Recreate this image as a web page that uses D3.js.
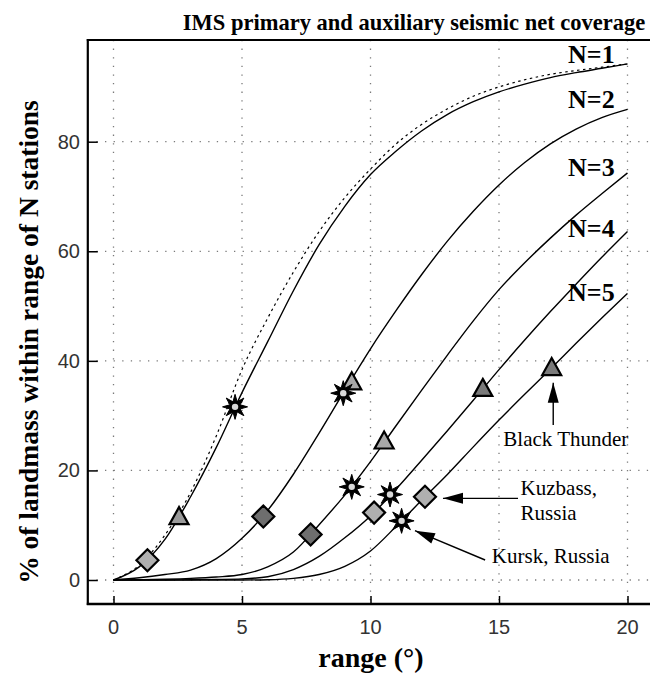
<!DOCTYPE html>
<html><head><meta charset="utf-8">
<script src="https://cdn.jsdelivr.net/npm/d3@7/dist/d3.min.js"></script>
<style>body{margin:0;background:#fff}</style>
</head><body>
<svg id="c" width="650" height="674"></svg>
<script>
// ---------- data ----------
const rangeDeg = [0,1,2,3,4,5,6,7,8,9,10,11,12,13,14,15,16,17,18,19,20];
const coverN1dotted = [0,2.7,8.2,16,26.3,38.4,47.8,56.2,63.6,69.8,75.0,79.6,83.2,86.0,88.3,90.0,91.3,92.3,93.0,93.6,94.2];
const coverN1 = [0,2.4,7.4,15.2,24.2,34.2,43.5,52.8,61.2,68.2,74.0,78.3,82.0,85.0,87.3,89.1,90.5,91.7,92.6,93.4,94.2];
const coverN2 = [0,0.4,1.0,1.8,3.9,7.6,12.7,19.3,26.8,34.6,42.2,49.2,55.8,61.9,67.3,72.1,76.2,79.6,82.3,84.4,85.9];
const coverN3 = [0,0.05,0.15,0.3,0.55,1.0,2.4,5.1,10.1,15.5,21.6,28.2,34.7,41.1,47.3,53.0,57.9,62.4,66.6,70.5,74.3];
const coverN4 = [0,0,0,0.05,0.1,0.2,0.6,1.9,4.3,7.7,11.7,16.6,21.9,27.3,32.8,38.4,43.8,49.0,54.0,58.9,63.6];
const coverN5 = [0,0,0,0,0,0,0.05,0.3,1.0,2.5,5.3,9.8,14.6,19.3,24.3,29.2,33.9,38.5,43.2,47.8,52.3];
const curveNames = ["N=1","N=2","N=3","N=4","N=5"];

const kuzbassRange = [1.32,5.83,7.67,10.14,12.12];
const kuzbassCover = [3.6,11.6,8.3,12.3,15.2];
const kurskRange = [4.73,8.94,9.27,10.76,11.21];
const kurskCover = [31.6,34.1,17.0,15.6,10.8];
const thunderRange = [2.55,9.27,10.53,14.37,17.05];
const thunderCover = [11.3,35.9,25.1,34.7,38.5];

const xTicks = [0,5,10,15,20];
const yTicks = [0,20,40,60,80];

const titleText = "IMS primary and auxiliary seismic net coverage";
const xTitle = "range (°)";
const yTitle = "% of landmass within range of N stations";

// ---------- layout / style ----------
const svg = d3.select("#c");
const pLeft = 87.8, pRight = 653, pTop = 40, pBottom = 604;
const x = d3.scaleLinear().domain([0,20]).range([113.5,627.5]);
const y = d3.scaleLinear().domain([0,80]).range([580,141.7]);
const serif = "'Liberation Serif','Times New Roman',serif";
const sans = "'Liberation Sans',Arial,sans-serif";
const kuzShade = ["#b0b0b0","#6e6e6e","#6e6e6e","#b0b0b0","#b0b0b0"];
const thuShade = ["#9a9a9a","#a8a8a8","#a8a8a8","#7a7a7a","#7a7a7a"];
const labelPos = [[19.5,94.4],[19.5,86.1],[19.5,73.7],[19.5,62.6],[19.5,50.9]];

svg.append("defs").append("clipPath").attr("id","clip")
  .append("rect").attr("x",pLeft).attr("y",pTop).attr("width",pRight-pLeft).attr("height",pBottom-pTop);

// grid
const grid = svg.append("g").attr("stroke","#7a7a7a").attr("stroke-width",1.3).attr("stroke-dasharray","1.3,7.3");
grid.selectAll("line.v").data(xTicks).join("line").attr("class","v")
  .attr("x1",d=>x(d)).attr("x2",d=>x(d)).attr("y1",pTop).attr("y2",pBottom);
grid.selectAll("line.h").data(yTicks).join("line").attr("class","h")
  .attr("x1",pLeft).attr("x2",pRight).attr("y1",d=>y(d)).attr("y2",d=>y(d));

// axes (inward ticks)
const xAxis = d3.axisTop(x).tickValues(xTicks).tickSize(8).tickFormat("");
const gx = svg.append("g").attr("transform",`translate(0,${pBottom})`).call(xAxis);
gx.select(".domain").remove();
gx.selectAll("line").attr("stroke","#000").attr("stroke-width",1.5);
const yAxis = d3.axisRight(y).tickValues(yTicks).tickSize(10).tickFormat("");
const gy = svg.append("g").attr("transform",`translate(${pLeft},0)`).call(yAxis);
gy.select(".domain").remove();
gy.selectAll("line").attr("stroke","#000").attr("stroke-width",1.5);

svg.append("line").attr("x1",pLeft).attr("x2",pLeft).attr("y1",pTop-1).attr("y2",pBottom+1).attr("stroke","#000").attr("stroke-width",2.2);
svg.append("line").attr("x1",pLeft-1).attr("x2",650).attr("y1",pBottom).attr("y2",pBottom).attr("stroke","#000").attr("stroke-width",2.6);
svg.append("line").attr("x1",pLeft-1).attr("x2",650).attr("y1",pTop).attr("y2",pTop).attr("stroke","#000").attr("stroke-width",2);

// tick labels
svg.append("g").selectAll("text").data(xTicks).join("text")
  .attr("x",d=>x(d)).attr("y",634).attr("text-anchor","middle")
  .attr("font-family",sans).attr("font-size",20).attr("fill","#333").text(d=>d);
svg.append("g").selectAll("text").data(yTicks).join("text")
  .attr("x",80).attr("y",d=>y(d)+7).attr("text-anchor","end")
  .attr("font-family",sans).attr("font-size",20).attr("fill","#333").text(d=>d);

// curves
const plot = svg.append("g").attr("clip-path","url(#clip)");
const line = d3.line().x(d=>x(d[0])).y(d=>y(d[1])).curve(d3.curveMonotoneX);
plot.append("path").attr("d",line(rangeDeg.map((r,i)=>[r,coverN1dotted[i]])))
  .attr("fill","none").attr("stroke","#000").attr("stroke-width",1.2).attr("stroke-dasharray","2.5,3.5");
[coverN1,coverN2,coverN3,coverN4,coverN5].forEach(arr=>{
  plot.append("path").attr("d",line(rangeDeg.map((r,i)=>[r,arr[i]])))
    .attr("fill","none").attr("stroke","#000").attr("stroke-width",1.4);
});

// curve labels
svg.append("g").selectAll("text").data(curveNames).join("text")
  .attr("x",(d,i)=>x(labelPos[i][0])).attr("y",(d,i)=>y(labelPos[i][1]))
  .attr("text-anchor","end").attr("font-family",serif).attr("font-weight","bold")
  .attr("font-size",26).attr("fill","#000").text(d=>d);

// markers
const mk = svg.append("g");
mk.selectAll("path.dia").data(kuzbassRange).join("path").attr("class","dia")
  .attr("d","M0,-11L11,0L0,11L-11,0Z")
  .attr("transform",(d,i)=>`translate(${x(d)},${y(kuzbassCover[i])})`)
  .attr("fill",(d,i)=>kuzShade[i]).attr("stroke","#000").attr("stroke-width",2.2).attr("stroke-linejoin","miter");
mk.selectAll("path.tri").data(thunderRange).join("path").attr("class","tri")
  .attr("d","M0,-11L9.5,6L-9.5,6Z")
  .attr("transform",(d,i)=>`translate(${x(d)},${y(thunderCover[i])})`)
  .attr("fill",(d,i)=>thuShade[i]).attr("stroke","#000").attr("stroke-width",2.2).attr("stroke-linejoin","miter");
const starPath = (()=>{const p=[];for(let k=0;k<16;k++){const a=k*Math.PI/8 - Math.PI/2;const r=k%2?5.5:12.5;p.push([r*Math.cos(a),r*Math.sin(a)]);}return "M"+p.map(q=>q.join(",")).join("L")+"Z";})();
const st = mk.selectAll("g.star").data(kurskRange).join("g").attr("class","star")
  .attr("transform",(d,i)=>`translate(${x(d)},${y(kurskCover[i])})`);
st.append("path").attr("d",starPath).attr("fill","#000").attr("stroke","#000").attr("stroke-width",1);
st.append("circle").attr("r",3.2).attr("fill","#d8d8d8");

// annotations
const ann = svg.append("g");
function arrow(x1,y1,x2,y2){
  ann.append("line").attr("x1",x(x1)).attr("y1",y(y1)).attr("x2",x(x2)).attr("y2",y(y2)).attr("stroke","#000").attr("stroke-width",1.4);
  const ang = Math.atan2(y(y2)-y(y1), x(x2)-x(x1));
  ann.append("path").attr("d","M0,0L-20,-5.5L-20,5.5Z").attr("fill","#000")
    .attr("transform",`translate(${x(x2)},${y(y2)}) rotate(${ang*180/Math.PI})`);
}
arrow(17.11,28.3,17.11,36.0);
arrow(15.74,14.9,12.82,14.9);
arrow(14.46,3.65,11.73,9.0);
const annText = (t,xx,yy)=>ann.append("text").attr("x",x(xx)).attr("y",y(yy))
  .attr("font-family",serif).attr("font-size",21).attr("fill","#000").text(t);
annText("Black Thunder",15.17,24.5);
annText("Kuzbass,",15.84,15.5);
annText("Russia",15.84,11.0);
annText("Kursk, Russia",14.72,3.05);

// titles
svg.append("text").attr("x",414).attr("y",29.5).attr("text-anchor","middle")
  .attr("font-family",serif).attr("font-weight","bold").attr("font-size",22.5).text(titleText);
svg.append("text").attr("x",371).attr("y",667).attr("text-anchor","middle")
  .attr("font-family",serif).attr("font-weight","bold").attr("font-size",28).text(xTitle);
svg.append("text").attr("transform","translate(38,342) rotate(-90)").attr("text-anchor","middle")
  .attr("font-family",serif).attr("font-weight","bold").attr("font-size",27.5).text(yTitle);
</script>
</body></html>
